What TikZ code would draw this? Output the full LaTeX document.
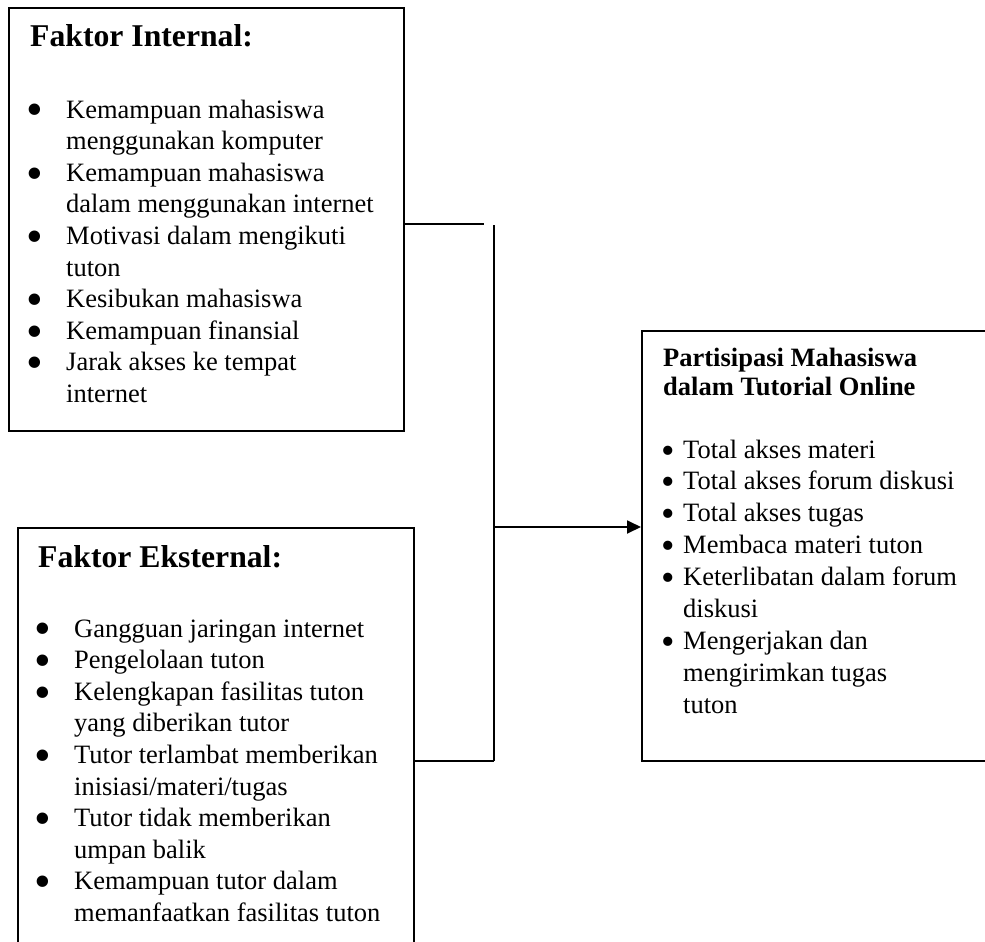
\documentclass[tikz,border=0pt]{standalone}
\usepackage{fontspec}
\usepackage{graphicx}
\setmainfont{Liberation Serif}
\usetikzlibrary{arrows.meta}
\newcommand{\bodyfont}{\fontsize{26.5}{31.6}\selectfont}
\newcommand{\rbodyfont}{\fontsize{26.5}{31.9}\selectfont}
\newcommand{\headfont}{\fontsize{31.7}{36}\selectfont\bfseries}
\newcommand{\rheadfont}{\fontsize{26.5}{29.5}\selectfont\bfseries}
\newcommand{\bigbul}{\hspace*{4.5pt}\makebox[0pt]{\smash{\raisebox{-0.3em}{\scalebox{1.8}{\textbullet}}}}}
\newcommand{\smbul}{\hspace*{4.5pt}\makebox[0pt]{\smash{\raisebox{-0.19em}{\scalebox{1.45}{\textbullet}}}}}
\begin{document}
\begin{tikzpicture}[x=1pt,y=-1pt,
  box/.style={draw, line width=1.8pt, anchor=north west, inner sep=0pt},
  txt/.style={anchor=base west, inner sep=0pt},
  conn/.style={line width=1.8pt}]
\useasboundingbox (0,0) rectangle (985,942);
% boxes
\node[box, minimum width=395pt, minimum height=423pt] (int) at (8,7) {};
\node[box, minimum width=396pt, minimum height=440pt] (ext) at (17,527) {};
\node[box, minimum width=370pt, minimum height=430pt] (part) at (641,330) {};
% internal texts
\node[txt, font=\headfont] (intH) at (30,47) {Faktor Internal:};
\node[txt, font=\bodyfont] (intL) at (30.5,118) {\begin{tabular}[t]{@{}p{35.5pt}@{}l@{}}
\bigbul & Kemampuan mahasiswa\\
 & menggunakan komputer\\
\bigbul & Kemampuan mahasiswa\\
 & dalam menggunakan internet\\
\bigbul & Motivasi dalam mengikuti\\
 & tuton\\
\bigbul & Kesibukan mahasiswa\\
\bigbul & Kemampuan finansial\\
\bigbul & Jarak akses ke tempat\\
 & internet
\end{tabular}};
% external texts
\node[txt, font=\headfont] (extH) at (38,567) {Faktor Eksternal:};
\node[txt, font=\bodyfont] (extL) at (38.5,637) {\begin{tabular}[t]{@{}p{35.5pt}@{}l@{}}
\bigbul & Gangguan jaringan internet\\
\bigbul & Pengelolaan tuton\\
\bigbul & Kelengkapan fasilitas tuton\\
 & yang diberikan tutor\\
\bigbul & Tutor terlambat memberikan\\
 & inisiasi/materi/tugas\\
\bigbul & Tutor tidak memberikan\\
 & umpan balik\\
\bigbul & Kemampuan tutor dalam\\
 & memanfaatkan fasilitas tuton
\end{tabular}};
% right box texts
\node[txt, font=\rheadfont] (partH) at (663,366) {\begin{tabular}[t]{@{}l@{}}
Partisipasi Mahasiswa\\
dalam Tutorial Online
\end{tabular}};
\node[txt, font=\rbodyfont] (partL) at (663.5,458) {\begin{tabular}[t]{@{}p{19.5pt}@{}l@{}}
\smbul & Total akses materi\\
\smbul & Total akses forum diskusi\\
\smbul & Total akses tugas\\
\smbul & Membaca materi tuton\\
\smbul & Keterlibatan dalam forum\\
 & diskusi\\
\smbul & Mengerjakan dan\\
 & mengirimkan tugas\\
 & tuton
\end{tabular}};
% connectors
\coordinate (j1) at (484,224);
\coordinate (vt) at (494,225);
\coordinate (vb) at (494,761);
\coordinate (va) at (494,527);
\draw[conn] (int.east |- j1) -- (j1);
\draw[conn] (vt) -- (vb);
\draw[conn] (ext.east |- vb) -- (vb);
\draw[conn, -{Triangle[length=14pt,width=13pt]}] (va) -- (va -| part.west);
\end{tikzpicture}
\end{document}
